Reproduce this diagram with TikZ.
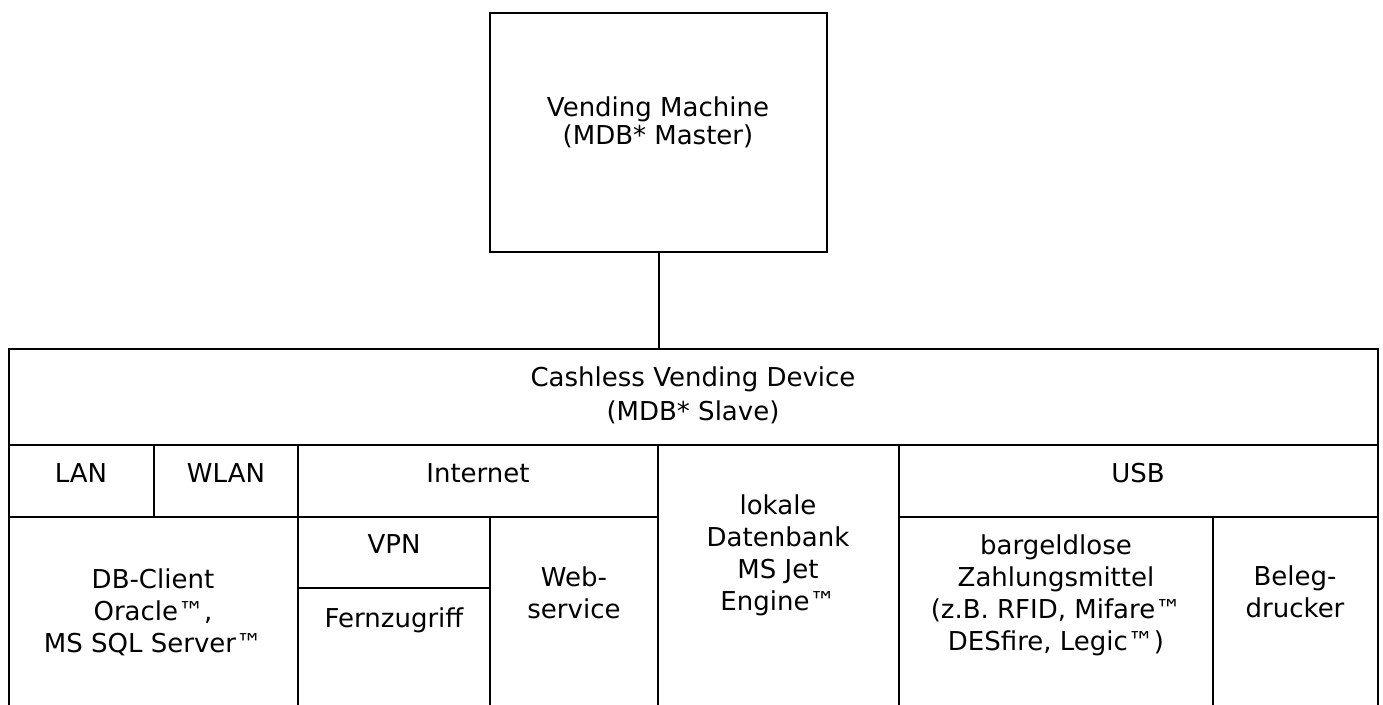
\documentclass[tikz,border=0pt]{standalone}
\usepackage{fontspec}
\setmainfont{DejaVu Sans}
\tikzstyle{cell}=[
        draw,
        line width = 2pt,
        anchor = north west,
        inner sep = 0pt,
        outer sep = 0pt,
        rectangle
    ]
\tikzstyle{cell text}=[
        anchor = base,
        align = center,
        inner sep = 0pt,
        font = \fontsize{26}{32}\selectfont
    ]
\begin{document}
\begin{tikzpicture}[x=1pt, y=-1pt, line width=2pt]
        \clip (0,0) rectangle (1383,704);
        \fill[white] (0,0) rectangle (1383,704);

        % master
        \node[cell, minimum width=337pt, minimum height=239pt] (vm) at (490,13) {};
        % slave device
        \node[cell, minimum width=1369pt, minimum height=96pt] (hdr) at (9,349) {};
        \node[cell, minimum width=145pt, minimum height=72pt] (lan) at (9,445) {};
        \node[cell, minimum width=144pt, minimum height=72pt] (wlan) at (154,445) {};
        \node[cell, minimum width=360pt, minimum height=72pt] (inet) at (298,445) {};
        \node[cell, minimum width=241pt, minimum height=290pt] (lokal) at (658,445) {};
        \node[cell, minimum width=479pt, minimum height=72pt] (usb) at (899,445) {};
        \node[cell, minimum width=289pt, minimum height=220pt] (db) at (9,517) {};
        \node[cell, minimum width=192pt, minimum height=71pt] (vpn) at (298,517) {};
        \node[cell, minimum width=192pt, minimum height=150pt] (fern) at (298,588) {};
        \node[cell, minimum width=168pt, minimum height=220pt] (web) at (490,517) {};
        \node[cell, minimum width=314pt, minimum height=220pt] (geld) at (899,517) {};
        \node[cell, minimum width=165pt, minimum height=220pt] (beleg) at (1213,517) {};

        \draw (vm.south) -- (vm.south |- hdr.north);

        % texts, anchored at the baseline of their last line
        \node[cell text, font=\fontsize{26}{28}\selectfont] (vmtext) at (658,144) {Vending Machine\\(MDB* Master)};
        \node[cell text, font=\fontsize{26}{34}\selectfont] (hdrtext) at (693,420) {Cashless Vending Device\\(MDB* Slave)};
        \node[cell text] (lantext) at (81,482) {LAN};
        \node[cell text] (wlantext) at (226,482) {WLAN};
        \node[cell text] (inettext) at (478,482) {Internet};
        \node[cell text] (usbtext) at (1138,482) {USB};
        \node[cell text] (lokaltext) at (778,610) {lokale\\Datenbank\\MS Jet\\Engine™};
        \node[cell text] (dbtext) at (153,652) {DB-Client\\Oracle™,\\MS SQL Server™};
        \node[cell text] (vpntext) at (394,553) {VPN};
        \node[cell text] (ferntext) at (394,627) {Fernzugriff};
        \node[cell text] (webtext) at (574,618) {Web-\\service};
        \node[cell text] (geldtext) at (1056,650) {bargeldlose\\Zahlungsmittel\\(z.B. RFID, Mifare™\\DESfire, Legic™)};
        \node[cell text] (belegtext) at (1295,617) {Beleg-\\drucker};

    \end{tikzpicture}
\end{document}
